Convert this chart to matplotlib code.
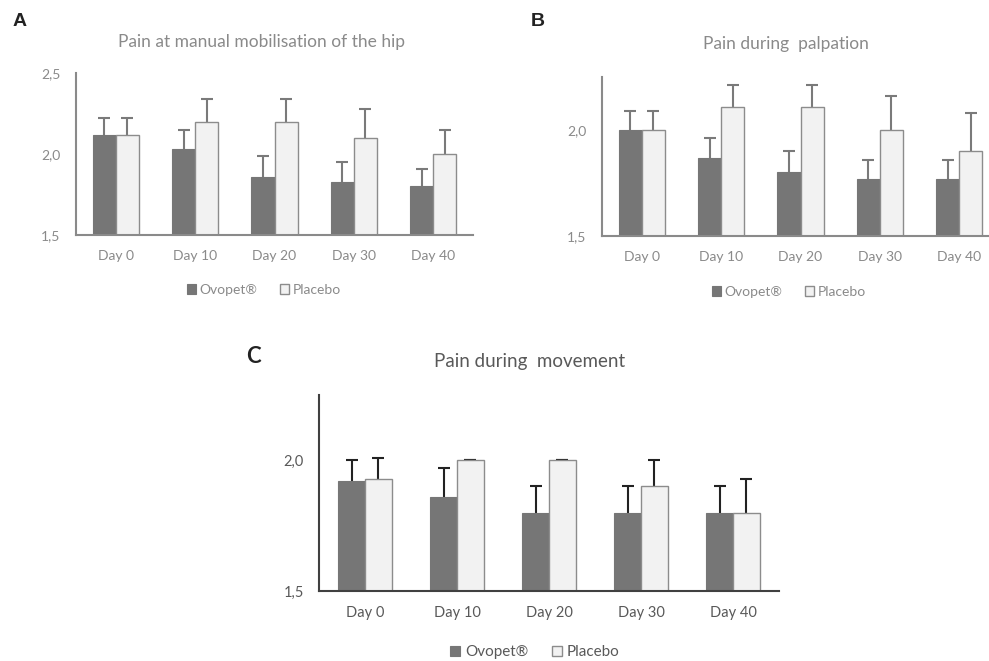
import matplotlib
matplotlib.use("Agg")
import matplotlib.pyplot as plt
import numpy as np

plt.rcParams['font.family'] = ['Lato', 'DejaVu Sans']

days = ["Day 0", "Day 10", "Day 20", "Day 30", "Day 40"]
series_names = ["Ovopet®", "Placebo"]

# panel A: pain at manual mobilisation of the hip
a_ovopet = [2.12, 2.03, 1.86, 1.83, 1.80]
a_ovopet_err = [0.10, 0.12, 0.13, 0.12, 0.11]
a_placebo = [2.12, 2.20, 2.20, 2.10, 2.00]
a_placebo_err = [0.10, 0.14, 0.14, 0.18, 0.15]

# panel B: pain during palpation
b_ovopet = [2.00, 1.87, 1.80, 1.77, 1.77]
b_ovopet_err = [0.09, 0.09, 0.10, 0.09, 0.09]
b_placebo = [2.00, 2.11, 2.11, 2.00, 1.90]
b_placebo_err = [0.09, 0.10, 0.10, 0.16, 0.18]

# panel C: pain during movement
c_ovopet = [1.92, 1.86, 1.80, 1.80, 1.80]
c_ovopet_err = [0.08, 0.11, 0.10, 0.10, 0.10]
c_placebo = [1.93, 2.00, 2.00, 1.90, 1.80]
c_placebo_err = [0.08, 0.0, 0.0, 0.10, 0.13]

W, H = 989, 661
DARK = '#767676'
LIGHT = '#f2f2f2'


def panel(fig, rect, ovo, ovo_err, pla, pla_err, ymax, yticks, ylabels,
          axcol, txtcol, errcol, fs):
    ax = fig.add_axes(rect)
    x = np.arange(len(days))
    w = 0.29
    ax.bar(x - w / 2, ovo, w, color=DARK, edgecolor=DARK, linewidth=0.8,
           label=series_names[0], zorder=3)
    ax.bar(x + w / 2, pla, w, color=LIGHT, edgecolor='#8c8c8c', linewidth=1.0,
           label=series_names[1], zorder=3)
    # symmetric bars drawn behind the columns, so only the upper half shows
    ax.errorbar(x - w / 2, ovo, yerr=ovo_err, fmt='none', ecolor=errcol,
                elinewidth=1.5, capsize=4, capthick=1.5, zorder=2)
    ax.errorbar(x + w / 2, pla, yerr=pla_err, fmt='none', ecolor=errcol,
                elinewidth=1.5, capsize=4, capthick=1.5, zorder=2)
    ax.set_xlim(-0.5, 4.5)
    ax.set_ylim(1.5, ymax)
    ax.set_xticks(x, days)
    ax.set_yticks(yticks, ylabels)
    ax.tick_params(length=0, labelsize=fs, colors=txtcol, pad=11)
    for s in ['top', 'right']:
        ax.spines[s].set_visible(False)
    for s in ['left', 'bottom']:
        ax.spines[s].set_color(axcol)
        ax.spines[s].set_linewidth(1.5)
        ax.spines[s].set_zorder(4)
    ax.patch.set_alpha(0)
    return ax


def rect(l, r, t, b):
    return [l / W, 1 - b / H, (r - l) / W, (b - t) / H]


fig = plt.figure(figsize=(9.89, 6.61), dpi=100)

axA = panel(fig, rect(76, 473, 73, 235), a_ovopet, a_ovopet_err, a_placebo, a_placebo_err,
            2.5, [1.5, 2.0, 2.5], ["1,5", "2,0", "2,5"], '#8a8a8a', '#8a8a8a', '#7a7a7a', 10)
axB = panel(fig, rect(602, 999, 77, 236), b_ovopet, b_ovopet_err, b_placebo, b_placebo_err,
            2.25, [1.5, 2.0], ["1,5", "2,0"], '#8a8a8a', '#8a8a8a', '#7a7a7a', 10)
axC = panel(fig, rect(319, 779, 395, 591), c_ovopet, c_ovopet_err, c_placebo, c_placebo_err,
            2.25, [1.5, 2.0], ["1,5", "2,0"], '#404040', '#595959', '#222222', 10.5)

fig.text(262 / W, 1 - 42 / H, "Pain at manual mobilisation of the hip", ha='center', va='center',
         fontsize=12.5, color='#8a8a8a')
fig.text(786 / W, 1 - 44 / H, "Pain during  palpation", ha='center', va='center',
         fontsize=12.5, color='#8a8a8a')
fig.text(530 / W, 1 - 362 / H, "Pain during  movement", ha='center', va='center',
         fontsize=13.5, color='#595959')

fig.text(20 / W, 1 - 22 / H, "A", ha='center', va='center', fontsize=14, fontweight='bold',
         family='Liberation Sans', color='#222222')
fig.text(538 / W, 1 - 22 / H, "B", ha='center', va='center', fontsize=14, fontweight='bold',
         family='Liberation Sans', color='#222222')
fig.text(253 / W, 1 - 357 / H, "C", ha='center', va='center', fontsize=16, fontweight='bold',
         color='#222222')

for ax, cx, cy, fs, col in [(axA, 264, 290, 10, '#8a8a8a'), (axB, 789, 292, 10, '#8a8a8a'),
                            (axC, 535, 652, 11, '#595959')]:
    leg = ax.legend(loc='center', bbox_to_anchor=(cx / W, 1 - cy / H), bbox_transform=fig.transFigure,
                    ncol=2, frameon=False, fontsize=fs, handlelength=0.65, handleheight=0.65,
                    handletextpad=0.3, columnspacing=1.6, borderpad=0)
    for t in leg.get_texts():
        t.set_color(col)

fig.savefig("out.png", dpi=100)
